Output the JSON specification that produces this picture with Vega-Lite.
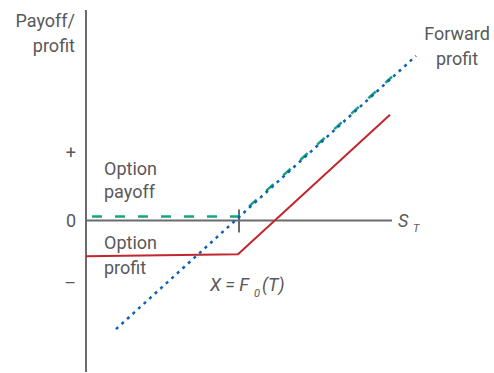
{
  "$schema": "https://vega.github.io/schema/vega-lite/v6.json",
  "width": 494,
  "height": 373,
  "padding": 0,
  "autosize": {"type": "fit", "contains": "padding"},
  "background": "white",
  "config": {"view": {"stroke": null}},
  "datasets": {
    "axes": [
      {"x": 0, "y": -152, "x2": 0, "y2": 211},
      {"x": 0, "y": 0, "x2": 306, "y2": 0},
      {"x": 153, "y": -12, "x2": 153, "y2": 11}
    ],
    "lines": [
      {"series": "Option payoff", "x": 6, "y": 4},
      {"series": "Option payoff", "x": 152, "y": 4},
      {"series": "Option payoff", "x": 306, "y": 144},
      {"series": "Option profit", "x": 0, "y": -36},
      {"series": "Option profit", "x": 152, "y": -34},
      {"series": "Option profit", "x": 304, "y": 106},
      {"series": "Forward profit", "x": 30, "y": -109},
      {"series": "Forward profit", "x": 330, "y": 165}
    ],
    "labelsRight": [
      {"x": -11, "y": 194, "text": "Payoff/"},
      {"x": -11, "y": 169, "text": "profit"},
      {"x": -10, "y": -7, "text": "0"}
    ],
    "labelsLeft": [
      {"x": 18, "y": 46, "text": "Option"},
      {"x": 18, "y": 22, "text": "payoff"},
      {"x": 18, "y": -29, "text": "Option"},
      {"x": 18, "y": -54, "text": "profit"}
    ],
    "labelsCenter": [
      {"x": 371, "y": 181, "text": "Forward"},
      {"x": 371, "y": 156, "text": "profit"}
    ],
    "signs": [
      {"x": -10, "y": 67, "text": "+"},
      {"x": -10, "y": -64, "text": "–"}
    ],
    "italic": [
      {"x": 312, "y": -7, "text": "S"},
      {"x": 124, "y": -71, "text": "X = F"},
      {"x": 176, "y": -71, "text": "(T)"}
    ],
    "subs": [
      {"x": 327, "y": -12, "text": "T"},
      {"x": 168, "y": -77, "text": "0"}
    ]
  },
  "layer": [
    {
      "data": {"name": "axes"},
      "mark": {"type": "rule", "color": "#6b6b6b", "strokeWidth": 2},
      "encoding": {
        "x": {"field": "x", "type": "quantitative", "scale": {"domain": [-86, 408], "nice": false, "zero": false}, "axis": null},
        "y": {"field": "y", "type": "quantitative", "scale": {"domain": [-152, 221], "nice": false, "zero": false}, "axis": null},
        "x2": {"field": "x2"},
        "y2": {"field": "y2"}
      }
    },
    {
      "data": {"name": "lines"},
      "transform": [{"filter": "datum.series === 'Option payoff'"}],
      "mark": {"type": "line", "color": "#17a57e", "strokeWidth": 2.5, "strokeDash": [10, 13], "strokeCap": "butt"},
      "encoding": {
        "x": {"field": "x", "type": "quantitative"},
        "y": {"field": "y", "type": "quantitative"},
        "order": {"field": "x"}
      }
    },
    {
      "data": {"name": "lines"},
      "transform": [{"filter": "datum.series === 'Option profit'"}],
      "mark": {"type": "line", "color": "#c1272d", "strokeWidth": 2},
      "encoding": {
        "x": {"field": "x", "type": "quantitative"},
        "y": {"field": "y", "type": "quantitative"},
        "order": {"field": "x"}
      }
    },
    {
      "data": {"name": "lines"},
      "transform": [{"filter": "datum.series === 'Forward profit'"}],
      "mark": {"type": "line", "color": "#0e60b4", "strokeWidth": 2.5, "strokeDash": [3, 4.5], "strokeCap": "butt"},
      "encoding": {
        "x": {"field": "x", "type": "quantitative"},
        "y": {"field": "y", "type": "quantitative"},
        "order": {"field": "x"}
      }
    },
    {
      "data": {"name": "labelsRight"},
      "mark": {"type": "text", "font": "Roboto", "fontSize": 18, "color": "#595959", "baseline": "alphabetic", "align": "right"},
      "encoding": {
        "x": {"field": "x", "type": "quantitative"},
        "y": {"field": "y", "type": "quantitative"},
        "text": {"field": "text"}
      }
    },
    {
      "data": {"name": "labelsLeft"},
      "mark": {"type": "text", "font": "Roboto", "fontSize": 18, "color": "#595959", "baseline": "alphabetic", "align": "left"},
      "encoding": {
        "x": {"field": "x", "type": "quantitative"},
        "y": {"field": "y", "type": "quantitative"},
        "text": {"field": "text"}
      }
    },
    {
      "data": {"name": "labelsCenter"},
      "mark": {"type": "text", "font": "Roboto", "fontSize": 18, "color": "#595959", "baseline": "alphabetic", "align": "center"},
      "encoding": {
        "x": {"field": "x", "type": "quantitative"},
        "y": {"field": "y", "type": "quantitative"},
        "text": {"field": "text"}
      }
    },
    {
      "data": {"name": "signs"},
      "mark": {"type": "text", "font": "Roboto", "fontSize": 18, "color": "#595959", "baseline": "middle", "align": "right"},
      "encoding": {
        "x": {"field": "x", "type": "quantitative"},
        "y": {"field": "y", "type": "quantitative"},
        "text": {"field": "text"}
      }
    },
    {
      "data": {"name": "italic"},
      "mark": {"type": "text", "font": "Roboto", "fontSize": 18, "fontStyle": "italic", "color": "#595959", "baseline": "alphabetic", "align": "left"},
      "encoding": {
        "x": {"field": "x", "type": "quantitative"},
        "y": {"field": "y", "type": "quantitative"},
        "text": {"field": "text"}
      }
    },
    {
      "data": {"name": "subs"},
      "mark": {"type": "text", "font": "Roboto", "fontSize": 11, "fontStyle": "italic", "color": "#595959", "baseline": "alphabetic", "align": "left"},
      "encoding": {
        "x": {"field": "x", "type": "quantitative"},
        "y": {"field": "y", "type": "quantitative"},
        "text": {"field": "text"}
      }
    }
  ]
}
